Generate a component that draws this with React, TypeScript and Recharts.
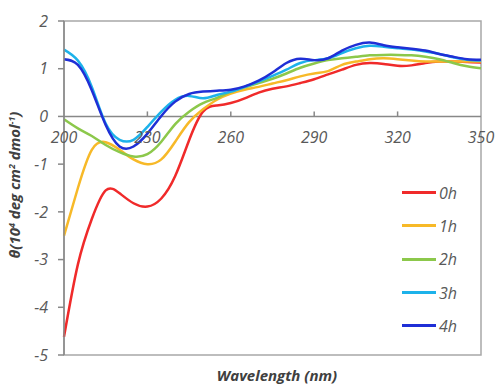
import { LineChart, Line, XAxis, YAxis, ReferenceLine, ReferenceArea } from "recharts";

const wavelength = [200, 205, 210, 215, 220, 225, 230, 235, 240, 245, 250, 255, 260, 265, 270, 275, 280, 285, 290, 295, 300, 305, 310, 315, 320, 325, 330, 335, 340, 345, 350];

const h0 = [-4.62, -3.1, -2.15, -1.55, -1.61, -1.82, -1.89, -1.72, -1.25, -0.5, 0.1, 0.23, 0.28, 0.38, 0.5, 0.58, 0.63, 0.7, 0.78, 0.88, 0.98, 1.08, 1.12, 1.1, 1.06, 1.07, 1.12, 1.15, 1.15, 1.14, 1.13];
const h1 = [-2.5, -1.5, -0.7, -0.54, -0.7, -0.9, -1.0, -0.9, -0.53, -0.12, 0.15, 0.35, 0.48, 0.56, 0.62, 0.69, 0.76, 0.84, 0.9, 0.95, 1.08, 1.15, 1.2, 1.22, 1.2, 1.17, 1.15, 1.15, 1.15, 1.15, 1.15];
const h2 = [-0.06, -0.25, -0.41, -0.6, -0.75, -0.84, -0.79, -0.53, -0.16, 0.1, 0.28, 0.39, 0.52, 0.61, 0.7, 0.79, 0.9, 1.02, 1.11, 1.18, 1.22, 1.25, 1.28, 1.29, 1.29, 1.28, 1.25, 1.2, 1.12, 1.05, 1.01];
const h3 = [1.4, 1.17, 0.62, -0.15, -0.49, -0.49, -0.22, 0.1, 0.35, 0.43, 0.38, 0.45, 0.52, 0.62, 0.73, 0.85, 0.98, 1.12, 1.18, 1.22, 1.33, 1.43, 1.48, 1.46, 1.43, 1.4, 1.36, 1.31, 1.24, 1.19, 1.17];
const h4 = [1.2, 1.08, 0.55, -0.18, -0.63, -0.63, -0.36, 0.01, 0.31, 0.47, 0.52, 0.54, 0.56, 0.63, 0.75, 0.92, 1.12, 1.21, 1.18, 1.22, 1.38, 1.5, 1.55, 1.49, 1.45, 1.42, 1.38, 1.31, 1.25, 1.2, 1.19];

const seriesNames = ["0h", "1h", "2h", "3h", "4h"];
const seriesColors = ["#f02a2a", "#f7b928", "#8cc84b", "#1db2ea", "#1f2fd6"];
const xTicks = [200, 230, 260, 290, 320, 350];
const yTicks = [-5, -4, -3, -2, -1, 0, 1, 2];

const data = wavelength.map((w, i) => ({
  w,
  "0h": h0[i],
  "1h": h1[i],
  "2h": h2[i],
  "3h": h3[i],
  "4h": h4[i],
}));

const W = 496;
const H = 385;
const TOP = 21;
const X_AXIS_H = 30;
const PLOT_H = H - TOP - X_AXIS_H;
const Y_MIN = -5;
const Y_MAX = 2;
const zeroY = TOP + (Y_MAX / (Y_MAX - Y_MIN)) * PLOT_H;

const FONT = "'Open Sans', sans-serif";
const TEXT = "#595959";
const AXIS = "#888888";

function XTick(props: any) {
  const { x, payload } = props;
  const edge = payload.value === 200 || payload.value === 350;
  return (
    <g>
      {!edge && <line x1={x} x2={x} y1={zeroY} y2={zeroY - 5} stroke={AXIS} strokeWidth={1.5} />}
      <text x={x} y={zeroY + 27} textAnchor="middle" fill={TEXT} fontSize={16} fontStyle="italic" fontFamily={FONT}>
        {payload.value}
      </text>
    </g>
  );
}

function LegendBox() {
  return (
    <div style={{ position: "absolute", left: 402, top: 176, fontFamily: FONT }}>
      {seriesNames.map((name, i) => (
        <div key={name} style={{ display: "flex", alignItems: "center", height: 33.3 }}>
          <div style={{ width: 34, height: 3, backgroundColor: seriesColors[i] }} />
          <span style={{ marginLeft: 3, fontSize: 16, fontStyle: "italic", color: TEXT }}>{name}</span>
        </div>
      ))}
    </div>
  );
}

export default function App() {
  return (
    <div style={{ position: "absolute", left: 0, top: 0, width: W, height: H, background: "#fff" }}>
      <LineChart width={W} height={H} data={data} margin={{ top: TOP, right: 15, left: 24, bottom: 0 }}>
        <ReferenceArea x1={200} x2={350} y1={-5} y2={2} fill="none" stroke="#a8a8a8" strokeWidth={1.5} />
        <XAxis
          dataKey="w"
          type="number"
          domain={[200, 350]}
          ticks={xTicks}
          height={X_AXIS_H}
          axisLine={false}
          tickLine={false}
          tick={<XTick />}
          interval={0}
          label={{
            content: () => (
              <text x={277} y={381} textAnchor="middle" fill="#404040" fontSize={15} fontWeight="bold" fontStyle="italic" fontFamily={FONT}>
                Wavelength (nm)
              </text>
            ),
          }}
        />
        <YAxis
          domain={[Y_MIN, Y_MAX]}
          ticks={yTicks}
          width={40}
          interval={0}
          axisLine={{ stroke: AXIS, strokeWidth: 1.5 }}
          tickLine={{ stroke: AXIS, strokeWidth: 1.5 }}
          tickSize={6}
          tickMargin={10}
          tick={{ fill: TEXT, fontSize: 16, fontStyle: "italic", fontFamily: FONT }}
          label={{
            content: () => (
              <text x={20} y={185} transform="rotate(-90 20 185)" textAnchor="middle" fill="#404040" fontSize={15} fontWeight="bold" fontStyle="italic" fontFamily={FONT}>
                θ(10<tspan dy={-5} fontSize={9}>4</tspan>
                <tspan dy={5}> deg cm</tspan>
                <tspan dy={-5} fontSize={9}>2</tspan>
                <tspan dy={5}> dmol</tspan>
                <tspan dy={-5} fontSize={9}>-1</tspan>
                <tspan dy={5}>)</tspan>
              </text>
            ),
          }}
        />
        <ReferenceLine y={0} stroke={AXIS} strokeWidth={1.5} />
        {seriesNames.map((name, i) => (
          <Line
            key={name}
            dataKey={name}
            type="natural"
            stroke={seriesColors[i]}
            strokeWidth={2.5}
            dot={false}
            isAnimationActive={false}
          />
        ))}
      </LineChart>
      <LegendBox />
    </div>
  );
}
